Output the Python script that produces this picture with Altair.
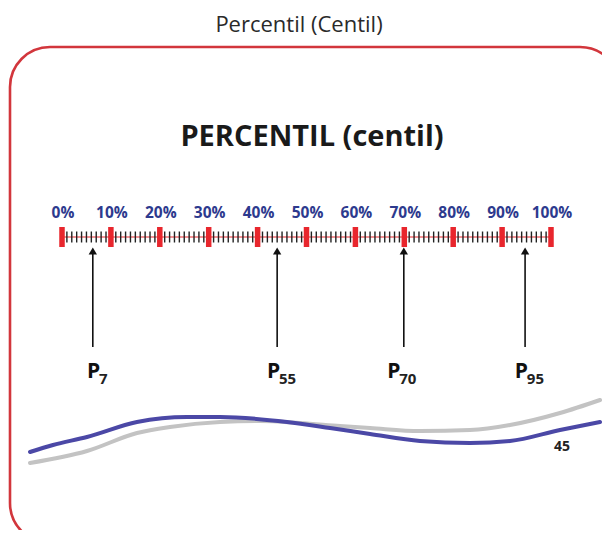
import altair as alt
import pandas as pd

# ---------------- data ----------------
major_pct = [0, 10, 20, 30, 40, 50, 60, 70, 80, 90, 100]
major_labels = ["0%", "10%", "20%", "30%", "40%", "50%", "60%", "70%", "80%", "90%", "100%"]
minor_pct = [p for p in range(1, 100) if p % 10 != 0]

arrow_pct = [6.3, 44.0, 69.9, 94.7]          # where the arrows point on the scale
p_label_pct = [5.1, 41.9, 66.5, 92.6]        # left edge of each "P" label
p_subs = ["7", "55", "70", "95"]

# decorative waves (image coordinates)
blue_x = [30, 53, 87, 137, 187, 220, 287, 330, 370, 420, 470, 510, 560, 600]
blue_y = [452, 445, 437, 422, 417, 417, 422, 428, 434, 441, 443, 441, 430, 422]
gray_x = [30, 87, 137, 170, 220, 260, 300, 340, 370, 420, 470, 510, 560, 600]
gray_y = [463, 451, 433, 427, 422, 421, 423, 426, 428, 431, 430, 425, 413, 400]

top_title = "Percentil (Centil)"
main_title = "PERCENTIL (centil)"
page_number = "45"

# ---------------- layout ----------------
W, H = 594, 522
OFF = 8
FONT = "Open Sans"
NAVY = "#2d3a8e"
RED = "#e8262d"

xpct = alt.X("pct:Q", scale=alt.Scale(domain=[0, 100], range=[62 - OFF, 551 - OFF], nice=False, zero=False), axis=None)
ximg = alt.X("x:Q", scale=alt.Scale(domain=[0, 610], range=[-OFF, 610 - OFF], nice=False, zero=False), axis=None)
yimg = alt.Y("y:Q", scale=alt.Scale(domain=[0, 538], range=[-OFF, 538 - OFF], nice=False, zero=False), axis=None)

one = pd.DataFrame({"k": [0]})
major_df = pd.DataFrame({"pct": major_pct, "label": major_labels})
minor_df = pd.DataFrame({"pct": minor_pct})
arrow_df = pd.DataFrame({"pct": arrow_pct})
plab_df = pd.DataFrame({"pct": p_label_pct, "sub": p_subs})
line_df = pd.DataFrame({"pct": [major_pct[0]], "pct2": [major_pct[-1]]})
blue_df = pd.DataFrame({"x": blue_x, "y": blue_y})
gray_df = pd.DataFrame({"x": gray_x, "y": gray_y})

border = alt.Chart(one).mark_rect(
    fill="white", fillOpacity=0, stroke="#d2363c", strokeWidth=2.6, cornerRadius=40
).encode(x=alt.value(10 - OFF), x2=alt.value(620 - OFF), y=alt.value(47 - OFF), y2=alt.value(543 - OFF))

t_top = alt.Chart(one).mark_text(
    text=top_title, font=FONT, fontSize=22, color="#2a2a2a", align="center", baseline="middle"
).encode(x=alt.value(299 - OFF), y=alt.value(25 - OFF))

t_main = alt.Chart(one).mark_text(
    text=main_title, font=FONT, fontSize=29, fontWeight="bold", color="#1a1a1a", align="center", baseline="middle"
).encode(x=alt.value(312 - OFF), y=alt.value(137 - OFF))

pct_labels = alt.Chart(major_df).mark_text(
    font=FONT, fontSize=15.5, fontWeight="bold", color=NAVY, align="center", baseline="middle", dx=1
).encode(x=xpct, y=alt.value(213 - OFF), text="label:N")

red_line = alt.Chart(line_df).mark_rule(color=RED, strokeWidth=1.2).encode(
    x=xpct, x2="pct2:Q", y=alt.value(237 - OFF))

minor_ticks = alt.Chart(minor_df).mark_tick(
    orient="vertical", size=11, thickness=1.4, color="#222222", opacity=1
).encode(x=xpct, y=alt.value(237 - OFF))

major_ticks = alt.Chart(major_df).mark_tick(
    orient="vertical", size=20, thickness=5.5, color=RED, opacity=1
).encode(x=xpct, y=alt.value(237 - OFF))

arrow_lines = alt.Chart(arrow_df).mark_rule(color="#111111", strokeWidth=1.6).encode(
    x=xpct, y=alt.value(253 - OFF), y2=alt.value(347 - OFF))

arrow_heads = alt.Chart(arrow_df).mark_point(
    shape="triangle-up", filled=True, size=70, color="#111111", opacity=1
).encode(x=xpct, y=alt.value(251 - OFF))

p_main = alt.Chart(plab_df).mark_text(
    text="P", font=FONT, fontSize=21, fontWeight="bold", color="#111111", align="left", baseline="alphabetic"
).encode(x=xpct, y=alt.value(378 - OFF))

p_sub = alt.Chart(plab_df).mark_text(
    font=FONT, fontSize=15, fontWeight="bold", color="#222222", align="left", baseline="alphabetic", dx=12
).encode(x=xpct, y=alt.value(384 - OFF), text="sub:N")

gray_line = alt.Chart(gray_df).mark_line(
    interpolate="monotone", strokeWidth=4, color="#c3c3c3", strokeCap="round"
).encode(x=ximg, y=yimg)

blue_line = alt.Chart(blue_df).mark_line(
    interpolate="monotone", strokeWidth=4, color="#4b48a6", strokeCap="round"
).encode(x=ximg, y=yimg)

t_page = alt.Chart(one).mark_text(
    text=page_number, font=FONT, fontSize=14, fontWeight="bold", color="#222222", align="center", baseline="middle"
).encode(x=alt.value(562 - OFF), y=alt.value(447 - OFF))

chart = alt.layer(
    border, t_top, t_main, pct_labels, red_line, minor_ticks, major_ticks,
    arrow_lines, arrow_heads, p_main, p_sub, gray_line, blue_line, t_page
).resolve_scale(x="independent", y="independent").properties(
    width=W, height=H, padding=0, background="white",
    autosize=alt.AutoSizeParams(type="none")
).configure_view(stroke=None)

chart.save("out.html", embed_options={"renderer": "svg", "actions": False})
